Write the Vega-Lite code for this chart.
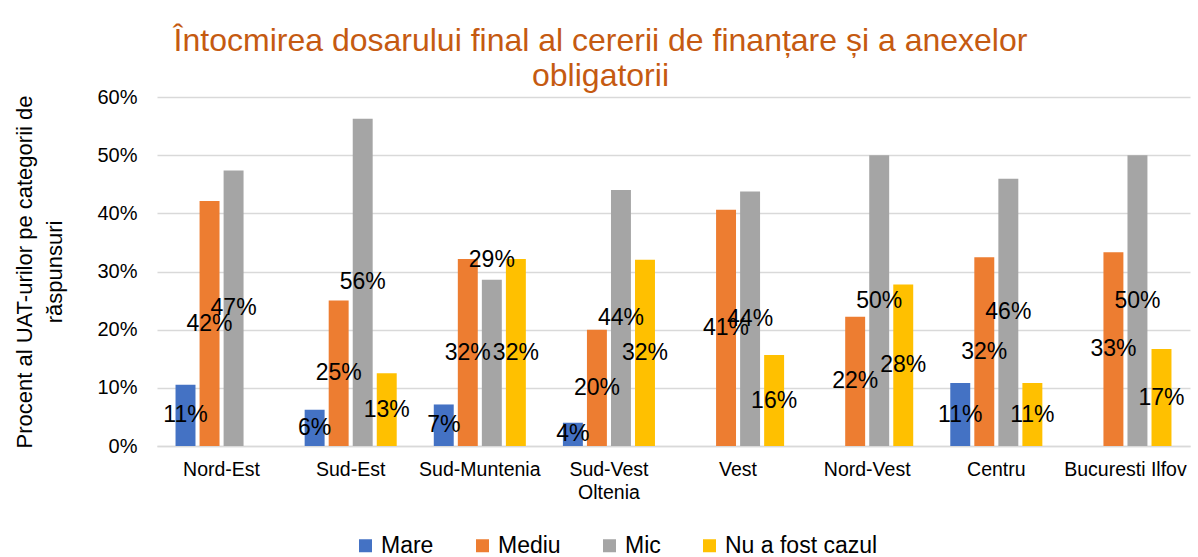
{
  "$schema": "https://vega.github.io/schema/vega-lite/v6.json",
  "width": 1033,
  "height": 349,
  "autosize": "none",
  "padding": {"left": 157, "top": 97, "right": 8, "bottom": 111},
  "background": "white",
  "config": {"font": "Liberation Sans", "view": {"stroke": null}},
  "title": {
    "text": ["Întocmirea dosarului final al cererii de finanțare și a anexelor", "obligatorii"],
    "fontSize": 32,
    "font": "Liberation Sans",
    "fontWeight": "normal",
    "color": "#C55A11",
    "lineHeight": 35,
    "anchor": "middle",
    "dx": -73,
    "offset": -6
  },
  "data": {
    "values": [
      {"region": "Nord-Est", "cat": "Mare", "value": 0.1053},
      {"region": "Nord-Est", "cat": "Mediu", "value": 0.4211},
      {"region": "Nord-Est", "cat": "Mic", "value": 0.4737},
      {"region": "Sud-Est", "cat": "Mare", "value": 0.0625},
      {"region": "Sud-Est", "cat": "Mediu", "value": 0.25},
      {"region": "Sud-Est", "cat": "Mic", "value": 0.5625},
      {"region": "Sud-Est", "cat": "Nu a fost cazul", "value": 0.125},
      {"region": "Sud-Muntenia", "cat": "Mare", "value": 0.0714},
      {"region": "Sud-Muntenia", "cat": "Mediu", "value": 0.3214},
      {"region": "Sud-Muntenia", "cat": "Mic", "value": 0.2857},
      {"region": "Sud-Muntenia", "cat": "Nu a fost cazul", "value": 0.3214},
      {"region": "Sud-Vest Oltenia", "cat": "Mare", "value": 0.04},
      {"region": "Sud-Vest Oltenia", "cat": "Mediu", "value": 0.2},
      {"region": "Sud-Vest Oltenia", "cat": "Mic", "value": 0.44},
      {"region": "Sud-Vest Oltenia", "cat": "Nu a fost cazul", "value": 0.32},
      {"region": "Vest", "cat": "Mediu", "value": 0.4063},
      {"region": "Vest", "cat": "Mic", "value": 0.4375},
      {"region": "Vest", "cat": "Nu a fost cazul", "value": 0.1563},
      {"region": "Nord-Vest", "cat": "Mediu", "value": 0.2222},
      {"region": "Nord-Vest", "cat": "Mic", "value": 0.5},
      {"region": "Nord-Vest", "cat": "Nu a fost cazul", "value": 0.2778},
      {"region": "Centru", "cat": "Mare", "value": 0.1081},
      {"region": "Centru", "cat": "Mediu", "value": 0.3243},
      {"region": "Centru", "cat": "Mic", "value": 0.4595},
      {"region": "Centru", "cat": "Nu a fost cazul", "value": 0.1081},
      {"region": "Bucuresti Ilfov", "cat": "Mediu", "value": 0.3333},
      {"region": "Bucuresti Ilfov", "cat": "Mic", "value": 0.5},
      {"region": "Bucuresti Ilfov", "cat": "Nu a fost cazul", "value": 0.1667}
    ]
  },
  "transform": [{"calculate": "datum.value / 2", "as": "mid"}],
  "encoding": {
    "x": {
      "field": "region",
      "type": "nominal",
      "sort": ["Nord-Est", "Sud-Est", "Sud-Muntenia", "Sud-Vest Oltenia", "Vest", "Nord-Vest", "Centru", "Bucuresti Ilfov"],
      "scale": {"paddingInner": 0.287, "paddingOuter": 0.1435},
      "axis": {
        "title": null,
        "labelAngle": 0,
        "ticks": false,
        "domain": true,
        "domainColor": "#d9d9d9",
        "domainWidth": 1.5,
        "labelFontSize": 19.5,
        "labelColor": "#000000",
        "labelPadding": 14,
        "labelBaseline": "top",
        "labelLineHeight": 23,
        "labelExpr": "datum.label == 'Sud-Vest Oltenia' ? ['Sud-Vest', 'Oltenia'] : datum.label"
      }
    },
    "xOffset": {
      "field": "cat",
      "type": "nominal",
      "sort": ["Mare", "Mediu", "Mic", "Nu a fost cazul"],
      "scale": {"domain": ["Mare", "Mediu", "Mic", "Nu a fost cazul"], "paddingInner": 0.17, "paddingOuter": 0}
    }
  },
  "layer": [
    {
      "mark": {"type": "bar"},
      "encoding": {
        "y": {
          "field": "value",
          "type": "quantitative",
          "scale": {"domain": [0, 0.6]},
          "axis": {
            "title": ["Procent al UAT-urilor  pe categorii de", "răspunsuri"],
            "titleFontSize": 22,
            "titleFontWeight": "normal",
            "titleColor": "#000000",
            "titleLineHeight": 30,
            "titlePadding": 30,
            "format": ".0%",
            "values": [0, 0.1, 0.2, 0.3, 0.4, 0.5, 0.6],
            "labelFontSize": 20,
            "labelColor": "#000000",
            "labelPadding": 20,
            "ticks": false,
            "domain": false,
            "gridColor": "#d9d9d9",
            "gridWidth": 1.5
          }
        },
        "color": {
          "field": "cat",
          "type": "nominal",
          "scale": {"domain": ["Mare", "Mediu", "Mic", "Nu a fost cazul"], "range": ["#4472C4", "#ED7D31", "#A5A5A5", "#FFC000"]},
          "legend": {
            "title": null,
            "orient": "none",
            "legendX": 197,
            "legendY": 437,
            "direction": "horizontal",
            "symbolType": "square",
            "symbolSize": 169,
            "symbolStrokeWidth": 0,
            "symbolOpacity": 1,
            "labelFontSize": 23,
            "labelOffset": 4,
            "columnPadding": 37,
            "labelColor": "#000000"
          }
        }
      }
    },
    {
      "transform": [{"filter": "!(datum.region == 'Sud-Muntenia' && datum.cat == 'Mic')"}],
      "mark": {"type": "text", "fontSize": 23, "color": "#000000"},
      "encoding": {
        "y": {"field": "mid", "type": "quantitative"},
        "text": {"field": "value", "type": "quantitative", "format": ".0%"}
      }
    },
    {
      "transform": [{"filter": "datum.region == 'Sud-Muntenia' && datum.cat == 'Mic'"}],
      "mark": {"type": "text", "fontSize": 23, "color": "#000000", "baseline": "bottom", "dy": -8},
      "encoding": {
        "y": {"field": "value", "type": "quantitative"},
        "text": {"field": "value", "type": "quantitative", "format": ".0%"}
      }
    }
  ]
}
